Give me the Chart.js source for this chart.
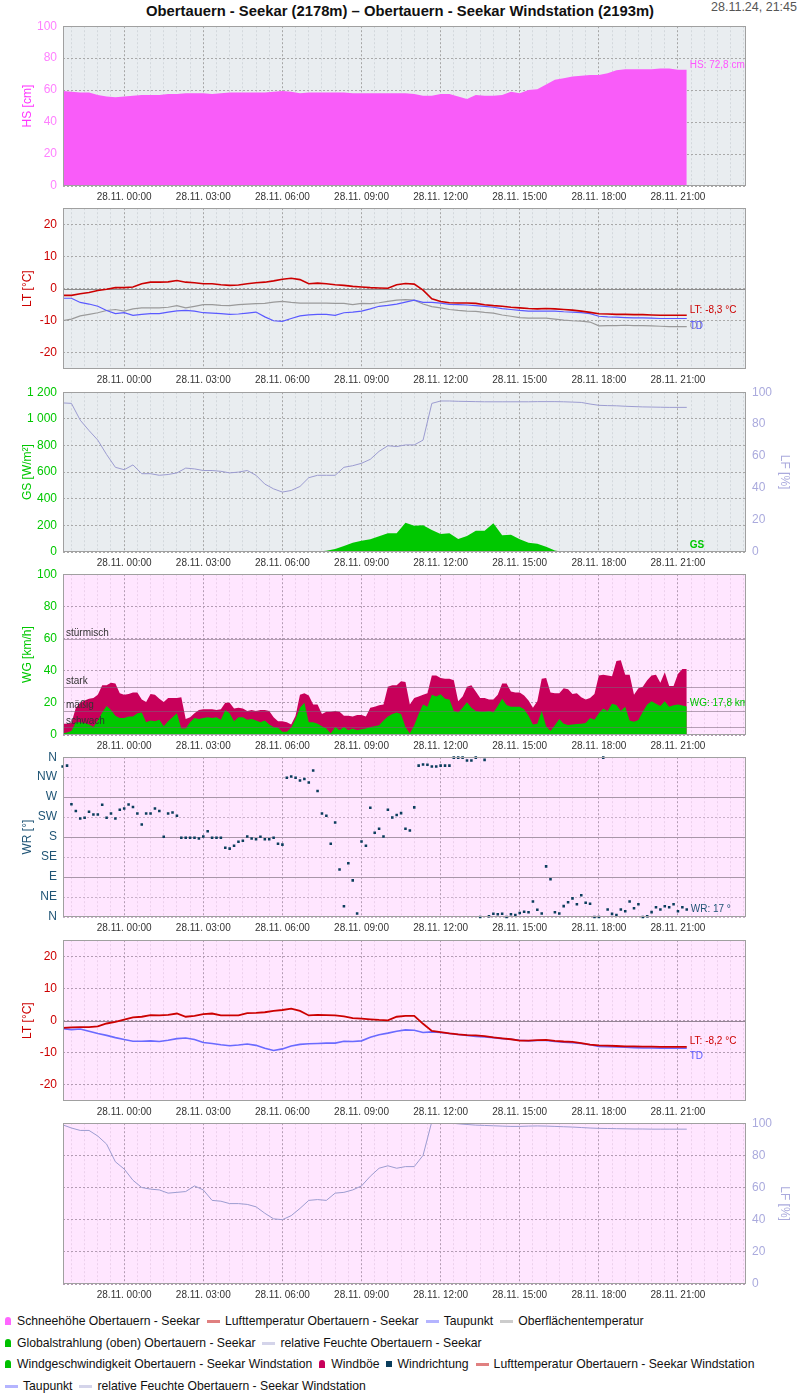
<!DOCTYPE html>
<html lang="de">
<head>
<meta charset="utf-8">
<title>Obertauern - Seekar</title>
<script src="https://cdn.jsdelivr.net/npm/chart.js@4.4.1/dist/chart.umd.min.js"></script>
<style>
  body { margin: 0; width: 800px; height: 1400px; position: relative; background: #fff;
         font-family: "Liberation Sans", Arial, sans-serif; overflow: hidden; }
  canvas { position: absolute; left: 0; }
  #title { position: absolute; top: 2px; left: 0; width: 800px; text-align: center;
           font-weight: bold; font-size: 14.8px; line-height: 18px; color: #111; }
  #stamp { position: absolute; top: 0; right: 3px; font-size: 12.5px; line-height: 15px; color: #555; }
  .lg { position: absolute; left: 5px; display: flex; align-items: center; font-size: 12.2px;
        line-height: 16px; white-space: nowrap; color: #111; }
  .it { display: flex; align-items: center; margin-right: 7px; }
  .bell { width: 6px; height: 8px; border-radius: 3px 3px 0 0; margin-right: 6px; }
  .ln { width: 13px; height: 3px; margin-right: 5px; }
  .sq { width: 6px; height: 6px; margin-right: 5px; }
</style>
</head>
<body>
<div id="title">Obertauern - Seekar (2178m) – Obertauern - Seekar Windstation (2193m)</div>
<div id="stamp">28.11.24, 21:45</div>

<div class="lg" style="top:1313px">
  <span class="it"><i class="bell" style="background:#ff66ff"></i>Schneehöhe Obertauern - Seekar</span>
  <span class="it"><i class="ln" style="background:#e08080"></i>Lufttemperatur Obertauern - Seekar</span>
  <span class="it"><i class="ln" style="background:#b4b4ff"></i>Taupunkt</span>
  <span class="it"><i class="ln" style="background:#cccccc"></i>Oberflächentemperatur</span>
</div>
<div class="lg" style="top:1335px">
  <span class="it"><i class="bell" style="background:#00c000"></i>Globalstrahlung (oben) Obertauern - Seekar</span>
  <span class="it"><i class="ln" style="background:#d4d4ea"></i>relative Feuchte Obertauern - Seekar</span>
</div>
<div class="lg" style="top:1356px">
  <span class="it"><i class="bell" style="background:#00c000"></i>Windgeschwindigkeit Obertauern - Seekar Windstation</span>
  <span class="it"><i class="bell" style="background:#c8005a"></i>Windböe</span>
  <span class="it"><i class="sq" style="background:#0a3d5c"></i>Windrichtung</span>
  <span class="it"><i class="ln" style="background:#e08080"></i>Lufttemperatur Obertauern - Seekar Windstation</span>
</div>
<div class="lg" style="top:1378px">
  <span class="it"><i class="ln" style="background:#b4b4ff"></i>Taupunkt</span>
  <span class="it"><i class="ln" style="background:#d4d4ea"></i>relative Feuchte Obertauern - Seekar Windstation</span>
</div>

<script>
// time axis in hours relative to 28.11. 00:00, first sample 27.11. 21:40
const T0 = -2 - 20 / 60;
const STEP_20 = 20 / 60;   // Seekar station values, every 20 min
const STEP_10 = 10 / 60;   // Windstation wind values, every 10 min
const X_MIN = -2.32, X_MAX = 23.58;
const hourTicks = [0, 3, 6, 9, 12, 15, 18, 21];
const dirLabels = ['N', 'NE', 'E', 'SE', 'S', 'SW', 'W', 'NW', 'N'];
const windLevels = [60, 30, 15, 5];
const windLevelNames = ['stürmisch', 'stark', 'mäßig', 'schwach'];

// Obertauern - Seekar (20 min)
const snowHeight = [59.5, 59, 58.5, 58.5, 57, 56, 55.5, 56, 56.5, 57,
  57, 57, 57.5, 57.5, 58, 58, 58, 57.5, 58, 58.5,
  58.5, 58.5, 58.5, 58.5, 59, 59.5, 59, 58, 58.5, 58.5,
  58.5, 58.5, 58.5, 58, 58, 58, 58, 58, 58, 58,
  57.5, 56.5, 56.5, 57.5, 57.5, 56, 54.5, 57, 56.5, 56.5,
  57, 59, 58, 60, 60.5, 63.5, 66.5, 67.5, 68.5, 69,
  69.5, 69.5, 70.5, 72.5, 73, 73, 73, 73, 73.5, 73.5,
  72.8, 72.8];
const airTemp = [-2.1, -2.1, -1.6, -1.2, -0.6, -0.2, 0.3, 0.3, 0.5, 1.5,
  2.0, 2.0, 2.1, 2.5, 2.0, 1.8, 1.5, 1.5, 1.2, 1.0,
  1.1, 1.5, 1.8, 2.0, 2.4, 2.9, 3.2, 2.8, 1.5, 1.7,
  1.5, 1.2, 1.0, 0.7, 0.5, 0.3, 0.2, 0.1, 1.2, 1.6,
  1.4, -0.5, -3.2, -4.0, -4.4, -4.5, -4.5, -4.6, -5.0, -5.3,
  -5.5, -5.8, -6.0, -6.2, -6.3, -6.2, -6.3, -6.5, -6.7, -7.0,
  -7.4, -7.8, -7.9, -8.0, -8.0, -8.1, -8.1, -8.2, -8.3, -8.3,
  -8.3, -8.3];
const dewPoint = [-3.0, -3.0, -4.3, -4.8, -5.5, -6.8, -7.8, -7.5, -8.3, -8.0,
  -7.8, -7.8, -7.3, -6.9, -6.8, -7.0, -7.5, -7.6, -7.8, -8.0,
  -7.9, -7.6, -7.3, -8.8, -10.0, -10.2, -9.3, -8.5, -8.2, -8.0,
  -8.0, -8.3, -7.5, -7.3, -7.0, -6.3, -5.5, -5.2, -4.8, -4.2,
  -3.6, -4.3, -4.3, -4.5, -4.9, -5.0, -5.1, -5.3, -5.5, -5.8,
  -6.2, -6.5, -6.8, -7.0, -7.0, -7.0, -7.0, -7.2, -7.3, -7.5,
  -7.8, -8.6, -8.8, -8.9, -9.0, -9.1, -9.1, -9.2, -9.3, -9.3,
  -9.3, -9.3];
const surfaceTemp = [-10.0, -9.5, -8.5, -8.0, -7.5, -6.8, -6.5, -7.0, -6.3, -6.0,
  -6.0, -6.0, -5.8, -5.3, -6.0, -5.5, -5.0, -5.0, -5.2, -5.3,
  -5.0, -4.8, -4.7, -4.6, -4.2, -4.0, -4.3, -4.5, -4.5, -4.5,
  -4.5, -4.6, -4.6, -5.0, -4.6, -4.7, -4.4, -4.0, -3.6, -3.4,
  -3.6, -4.8, -5.6, -6.0, -6.5, -6.8, -7.0, -7.1, -7.4, -7.6,
  -8.2, -8.6, -9.0, -9.2, -9.2, -9.2, -9.5, -9.8, -10.0, -10.1,
  -10.4, -11.6, -11.5, -11.5, -11.4, -11.5, -11.5, -11.6, -11.7, -11.8,
  -11.8, -11.8];
const globalRad = [0, 0, 0, 0, 0, 0, 0, 0, 0, 0,
  0, 0, 0, 0, 0, 0, 0, 0, 0, 0,
  0, 0, 0, 0, 0, 0, 0, 0, 0, 3,
  10, 22, 45, 70, 85, 95, 118, 140, 140, 220,
  198, 200, 165, 135, 140, 98, 120, 160, 160, 215,
  125, 130, 95, 70, 62, 40, 12, 0, 0, 0,
  0, 0, 0, 0, 0, 0, 0, 0, 0, 0,
  0, 0];
const humidity = [93.3, 93, 82.5, 76, 70, 61, 53, 51.5, 54.5, 49,
  49, 48, 48.5, 49.5, 52.5, 52, 51, 51, 50.5, 49.5,
  50, 51, 48, 42.5, 39.5, 37.5, 38.5, 41, 46.5, 48,
  48, 48, 53, 54, 55.5, 58, 63, 66.5, 66, 67,
  67, 70, 93, 94.5, 94.5, 94.3, 94.2, 94.1, 94, 94,
  94, 94, 94, 94, 94.1, 94.1, 94.1, 94.0, 93.8, 93.6,
  92.6, 91.8, 91.6, 91.5, 91.2, 91.0, 90.8, 90.7, 90.6, 90.5,
  90.5, 90.5];

// Obertauern - Seekar Windstation
const windSpeed = [1, 1.5, 2.5, 8, 8, 7.5, 6.5, 5, 9, 14,
  18, 15.5, 12, 10.5, 10.5, 11.5, 11.5, 13.5, 14, 8,
  9, 8.5, 9.5, 5.5, 8.5, 11, 13.5, 4, 4, 8,
  10.5, 10, 10.5, 11, 10.5, 11, 9.5, 15.5, 13.5, 8.5,
  11, 11, 9.5, 10, 9, 8, 9, 6.5, 5, 4.5,
  2, 2, 4.5, 10, 17, 20, 8, 8, 7, 5.5,
  4, 1, 5, 3, 5, 3, 4, 3, 3.5, 4,
  5, 5.5, 6, 9, 11.5, 13, 14, 13, 5, 1,
  6, 13, 19, 17.5, 25, 24, 25.3, 22.5, 22, 15,
  14, 17, 20.3, 17, 15, 14.5, 14.5, 15, 14, 18,
  22.5, 18.7, 17.6, 17.6, 17.5, 16, 12, 6.5, 7, 15,
  5.5, 2.5, 6, 10, 7, 6.2, 6.5, 6.8, 7, 7.5,
  10.5, 9.5, 13.5, 16.5, 15, 19.5, 18.7, 15, 17.5, 9,
  8.3, 9.3, 14.5, 19, 21, 19.5, 18, 21, 17.5, 18.5,
  19, 18.3, 17.8];
const windGust = [7, 7, 7.5, 17, 20, 21.5, 22.5, 23, 25, 31,
  31, 32.5, 32, 26, 25, 25.5, 26.5, 26.5, 22, 20.5,
  25.5, 25, 22.5, 20.5, 23, 23, 23, 23.5, 10, 11,
  13.5, 15.5, 16, 16, 16, 15.5, 16, 20, 20, 16.5,
  17, 16.5, 15, 15.5, 15, 15.5, 15.5, 15, 11, 8.5,
  8.5, 8, 6.5, 12, 25, 26, 24.5, 19, 19, 13,
  14.5, 14.5, 15, 14.5, 12, 12, 11.5, 12.5, 12.5, 11.5,
  17, 17.5, 18.5, 19, 30, 31, 31, 33.5, 33, 19,
  23, 24, 25, 26, 37, 37, 35.5, 35, 35, 34,
  21, 24, 30, 31, 27, 23, 23, 22, 22, 25,
  32, 32, 27, 26.5, 26.5, 24.5, 21.5, 17, 21, 35,
  35.5, 26.5, 26, 26, 29, 28.5, 25.5, 26, 23.5, 22,
  23, 25.5, 37, 37.5, 37, 36.5, 46, 46.5, 37.5, 37.5,
  25, 29, 30, 34, 37, 37.5, 32.5, 39, 30.5, 30.5,
  38, 41, 41];
const windDir = [339, 341, 254, 239, 222, 223.5, 237, 231, 231, 253,
  223.5, 233, 222, 241.5, 244.5, 253.5, 248, 233, 208.5, 233,
  233, 244.5, 239, 181, 233, 235.5, 228, 178.5, 178.5, 178.5,
  178.5, 177, 181.5, 193, 178.5, 178.5, 178.5, 156, 154, 160.5,
  169.5, 172, 181.5, 177, 175, 181, 175, 175, 178.5, 165,
  163, 313.5, 316.5, 313.5, 307.5, 311, 303, 330, 284, 233,
  228, 165, 213, 107, 24, 121, 82.5, 8, 170, 160.5,
  246, 190, 199, 181.5, 241.5, 224, 230, 234, 199, 195,
  247, 341, 343.5, 343, 339, 339, 341, 341, 341, 359,
  359, 359, 352.5, 352.5, 359, 0, 354, 1.5, 7.5, 6,
  7.5, 0, 6, 4.5, 9, 12, 10.5, 35, 16.5, 8,
  114, 85, 10.5, 8, 24.5, 33, 42, 28.5, 49, 32,
  30, 0, 0, 359, 17, 7, 4.5, 17, 13, 35,
  19.5, 28.5, 0, 1.5, 11, 22, 17, 24, 22, 28.5,
  13, 22, 17];
const airTempWs = [-2.3, -2.1, -2.0, -2.0, -1.8, -0.9, -0.4, 0.3, 1.0, 1.2,
  1.7, 1.6, 1.8, 2.2, 1.2, 1.5, 2.0, 2.2, 1.6, 1.6,
  1.6, 2.3, 2.4, 2.6, 3.0, 3.3, 3.7, 3.0, 1.6, 1.8,
  1.7, 1.6, 1.3, 0.8, 0.6, 0.4, 0.2, 0.1, 1.2, 1.5,
  1.5, -1.0, -3.2, -3.6, -4.0, -4.3, -4.5, -4.6, -4.8, -5.2,
  -5.5, -5.8, -6.2, -6.2, -6.1, -6.0, -6.3, -6.5, -6.6, -7.0,
  -7.5, -7.7, -7.8, -7.9, -8.0, -8.0, -8.1, -8.1, -8.2, -8.2,
  -8.2, -8.2];
const dewPointWs = [-2.5, -2.8, -2.6, -3.3, -4.0, -4.6, -5.3, -5.9, -6.4, -6.4,
  -6.3, -6.5, -6.1, -5.6, -5.4, -5.9, -6.8, -7.1, -7.5, -7.8,
  -7.6, -7.3, -7.7, -8.6, -9.3, -8.8, -7.9, -7.4, -7.2, -7.1,
  -7.0, -7.0, -6.4, -6.5, -6.3, -5.2, -4.4, -3.9, -3.3, -2.9,
  -3.0, -3.7, -3.5, -3.7, -4.0, -4.3, -4.6, -4.9, -5.1, -5.3,
  -5.6, -5.8, -6.1, -6.3, -6.2, -6.2, -6.5, -6.7, -6.9, -7.1,
  -7.5, -8.0, -8.1, -8.2, -8.3, -8.4, -8.5, -8.5, -8.6, -8.6,
  -8.6, -8.6];
const humidityWs = [99, 97, 95.5, 95.5, 92, 87, 76, 71.5, 64.5, 60,
  59, 58.5, 56.5, 57, 57.5, 61, 58.5, 52, 51.5, 50,
  50, 49.5, 48, 44, 40.5, 40, 42.5, 47, 52, 52.5,
  52, 56.5, 57, 58.5, 61, 67, 72, 73.5, 72, 73,
  73, 80, 101, 100.5, 100.2, 99.6, 99.2, 98.8, 98.6, 98.4,
  98.2, 98.0, 98.0, 98.2, 98.3, 98.2, 98.0, 97.8, 97.6, 97.3,
  97.0, 96.8, 96.7, 96.6, 96.5, 96.4, 96.4, 96.3, 96.3, 96.3,
  96.3, 96.3];

Chart.defaults.font.family = '"Liberation Sans", Arial, sans-serif';
Chart.defaults.font.size = 12;

const PLOT_L = 63, PLOT_R = 746, PAD_T = 10, X_AXIS_H = 20;
const GREY_BG = '#e9edf0', PINK_BG = '#ffe6ff';
const FONT = '"Liberation Sans", Arial, sans-serif';

const series = (vals, step) => vals.map((v, i) => ({ x: T0 + i * step, y: v }));
const comma = v => v.toFixed(1).replace('.', ',');
const last = a => a[a.length - 1];

function xAxis(majorColor, minorColor) {
  return {
    type: 'linear', min: X_MIN, max: X_MAX,
    afterBuildTicks: s => {
      const t = [];
      for (let v = -2; v <= 23.5; v += 0.5) t.push({ value: v });
      s.ticks = t;
    },
    afterFit: s => { s.height = X_AXIS_H; },
    grid: { drawTicks: false, color: c => hourTicks.includes(c.tick.value) ? majorColor : minorColor },
    border: { display: false, dash: [2, 2] },
    ticks: {
      autoSkip: false, maxRotation: 0, padding: 5, color: '#333', font: { size: 10 },
      callback: v => hourTicks.includes(v) ? '28.11. ' + String(v).padStart(2, '0') + ':00' : ''
    }
  };
}

function yAxis(o) {
  const right = o.pos === 'right';
  return {
    position: right ? 'right' : 'left', min: o.min, max: o.max,
    afterBuildTicks: s => { s.ticks = o.ticks.map(v => ({ value: v })); },
    afterFit: s => { s.width = right ? 800 - PLOT_R : PLOT_L; },
    grid: { display: o.gridColor !== undefined, drawTicks: false, color: o.gridColor },
    border: { display: false, dash: [2, 2] },
    ticks: { color: o.color, padding: 6, font: { size: 12 }, callback: o.fmt || (v => v) },
    title: { display: true, text: o.title, color: o.titleColor || o.color, font: { size: 12 },
             padding: { top: right ? 8 : 20, bottom: 0 } }
  };
}

// background, solid reference lines, end-of-series labels and plot border
function frame(bg, opts) {
  const drawLines = (c, over) => {
    const { ctx, chartArea: a } = c;
    (opts.lines || []).filter(l => !!l.over === over).forEach(l => {
      const y = Math.round(c.scales[l.axis].getPixelForValue(l.v)) + 0.5;
      ctx.strokeStyle = l.color; ctx.lineWidth = 1;
      ctx.beginPath(); ctx.moveTo(a.left, y); ctx.lineTo(a.right, y); ctx.stroke();
      if (l.text) {
        ctx.fillStyle = '#333'; ctx.font = '10px ' + FONT; ctx.textBaseline = 'bottom';
        ctx.fillText(l.text, a.left + 3, y - 1);
      }
    });
  };
  return {
    id: 'frame',
    beforeDraw(c) {
      const { ctx, chartArea: a } = c;
      ctx.save(); ctx.fillStyle = bg; ctx.fillRect(a.left, a.top, a.width, a.height); ctx.restore();
    },
    beforeDatasetsDraw(c) {
      c.ctx.save(); drawLines(c, false); c.ctx.restore();
    },
    afterDatasetsDraw(c) {
      const { ctx, chartArea: a } = c;
      ctx.save();
      ctx.beginPath(); ctx.rect(a.left, a.top, a.width, a.height); ctx.clip();
      drawLines(c, true);
      (opts.labels || []).forEach(l => {
        const pts = c.getDatasetMeta(l.ds).data;
        const p = pts[pts.length - 1];
        ctx.font = (l.bold ? 'bold ' : '') + '10px ' + FONT;
        ctx.fillStyle = l.color; ctx.textBaseline = 'middle';
        ctx.fillText(l.text, p.x + (l.dx || 3), p.y + l.dy);
      });
      ctx.restore();
      ctx.save(); ctx.strokeStyle = '#a0a0a0'; ctx.lineWidth = 1;
      ctx.strokeRect(Math.round(a.left) + 0.5, Math.round(a.top) + 0.5, Math.round(a.width) - 1, Math.round(a.height) - 1);
      ctx.restore();
    }
  };
}

function makeChart(plotTop, plotH, datasets, scales, pad, plugin) {
  const cv = document.createElement('canvas');
  document.body.appendChild(cv);
  const build = h => {
    cv.width = 800; cv.height = h;
    return new Chart(cv, {
      type: 'line',
      data: { datasets },
      options: {
        responsive: false, maintainAspectRatio: false, animation: false, devicePixelRatio: 1, events: [],
        layout: { padding: Object.assign({ top: PAD_T, left: 0, right: 0, bottom: 0 }, pad) },
        plugins: { legend: { display: false }, tooltip: { enabled: false } },
        elements: { point: { radius: 0 }, line: { tension: 0 } },
        scales
      },
      plugins: [plugin]
    });
  };
  let h = plotH + PAD_T + X_AXIS_H;
  let chart = build(h);
  // rebuild once so the plot area is exactly plotH tall
  const dh = Math.round(plotH - (chart.chartArea.bottom - chart.chartArea.top));
  if (dh !== 0) { chart.destroy(); chart = build(h + dh); }
  cv.style.top = Math.round(plotTop - chart.chartArea.top) + 'px';
  return chart;
}

const greyX = () => xAxis('#a6a6a6', '#d3d8dc');
const pinkX = () => xAxis('#b39cb3', '#ecd0ec');
const RED = '#cc0000', BLUE = '#5a5aff', GREEN = '#00c800', LFC = '#9c9cd0', DIR = '#1f5475';
const tempTicks = [-20, -10, 0, 10, 20];
const pctTicks = [0, 20, 40, 60, 80, 100];

// 1: Schneehöhe
makeChart(26, 160,
  [{ data: series(snowHeight, STEP_20), fill: 'origin', backgroundColor: '#f95cf9', borderWidth: 0 }],
  { x: greyX(), y: yAxis({ min: 0, max: 100, ticks: pctTicks, color: '#ff80ff', titleColor: '#ff33ff', title: 'HS [cm]', gridColor: '#a9a9a9' }) },
  { right: 800 - PLOT_R },
  frame(GREY_BG, { labels: [{ ds: 0, text: 'HS: ' + comma(last(snowHeight)) + ' cm', color: '#ff55ff', dy: -4 }] }));

// 2: Lufttemperatur, Taupunkt, Oberflächentemperatur
makeChart(208, 161, [
    { data: series(airTemp, STEP_20), borderColor: RED, borderWidth: 1.6 },
    { data: series(dewPoint, STEP_20), borderColor: BLUE, borderWidth: 1.2 },
    { data: series(surfaceTemp, STEP_20), borderColor: '#9a9a9a', borderWidth: 1.2 }
  ],
  { x: greyX(), y: yAxis({ min: -25, max: 25, ticks: tempTicks, color: RED, title: 'LT [°C]', gridColor: '#a9a9a9' }) },
  { right: 800 - PLOT_R },
  frame(GREY_BG, {
    lines: [{ axis: 'y', v: 0, color: '#8c8c8c' }],
    labels: [
      { ds: 0, text: 'LT: ' + comma(last(airTemp)) + ' °C', color: RED, dy: -5 },
      { ds: 2, text: 'OT', color: '#999', dy: 0 },
      { ds: 1, text: 'TD', color: BLUE, dy: 8 }
    ]
  }));

// 3: Globalstrahlung + relative Feuchte
makeChart(392, 160, [
    { data: series(humidity, STEP_20), yAxisID: 'y2', borderColor: LFC, borderWidth: 1 },
    { data: series(globalRad, STEP_20), yAxisID: 'y', fill: 'origin', backgroundColor: GREEN, borderWidth: 0 }
  ],
  { x: greyX(),
    y: yAxis({ min: 0, max: 1200, ticks: [0, 200, 400, 600, 800, 1000, 1200], color: GREEN, title: 'GS [W/m²]', gridColor: '#a9a9a9',
               fmt: v => v >= 1000 ? Math.floor(v / 1000) + ' ' + String(v % 1000).padStart(3, '0') : v }),
    y2: yAxis({ pos: 'right', min: 0, max: 100, ticks: pctTicks, color: '#aaaadd', title: 'LF [%]' }) },
  {},
  frame(GREY_BG, { labels: [{ ds: 1, text: 'GS', color: GREEN, dy: -7, bold: true }] }));

// 4: Windgeschwindigkeit + Windböe
makeChart(574, 161, [
    { data: series(windSpeed, STEP_10), fill: 'origin', backgroundColor: GREEN, borderWidth: 0 },
    { data: series(windGust, STEP_10), fill: 'origin', backgroundColor: '#c8005a', borderWidth: 0 }
  ],
  { x: pinkX(), y: yAxis({ min: 0, max: 100, ticks: pctTicks, color: GREEN, title: 'WG [km/h]', gridColor: '#b39cb3' }) },
  { right: 800 - PLOT_R },
  frame(PINK_BG, {
    lines: windLevels.map((v, i) => ({ axis: 'y', v, color: 'rgba(120,100,120,0.55)', text: windLevelNames[i], over: true })),
    labels: [{ ds: 0, text: 'WG: ' + comma(last(windSpeed)) + ' km/h', color: GREEN, dy: -3 }]
  }));

// 5: Windrichtung
makeChart(757, 160, [
    { data: series(windDir, STEP_10), showLine: false, pointRadius: 1.8, pointStyle: 'rect',
      pointBackgroundColor: '#0a3d5c', pointBorderWidth: 0, clip: 4 }
  ],
  { x: pinkX(), y: yAxis({ min: 0, max: 360, ticks: [0, 45, 90, 135, 180, 225, 270, 315, 360], color: DIR, title: 'WR [°]',
                           gridColor: '#c8b0c8', fmt: v => dirLabels[v / 45] }) },
  { right: 800 - PLOT_R },
  frame(PINK_BG, {
    lines: [90, 180, 270].map(v => ({ axis: 'y', v, color: '#a896a8' })),
    labels: [{ ds: 0, text: 'WR: ' + Math.round(last(windDir)) + ' °', color: DIR, dy: 0, dx: 4 }]
  }));

// 6: Lufttemperatur + Taupunkt Windstation
makeChart(940, 161, [
    { data: series(airTempWs, STEP_20), borderColor: RED, borderWidth: 1.8 },
    { data: series(dewPointWs, STEP_20), borderColor: '#6a6aff', borderWidth: 1.6 }
  ],
  { x: pinkX(), y: yAxis({ min: -25, max: 25, ticks: tempTicks, color: RED, title: 'LT [°C]', gridColor: '#b39cb3' }) },
  { right: 800 - PLOT_R },
  frame(PINK_BG, {
    lines: [{ axis: 'y', v: 0, color: '#948494' }],
    labels: [
      { ds: 0, text: 'LT: ' + comma(last(airTempWs)) + ' °C', color: RED, dy: -6 },
      { ds: 1, text: 'TD', color: BLUE, dy: 8 }
    ]
  }));

// 7: relative Feuchte Windstation
makeChart(1123, 161, [
    { data: series(humidityWs, STEP_20), borderColor: LFC, borderWidth: 1 }
  ],
  { x: pinkX(), y: yAxis({ pos: 'right', min: 0, max: 100, ticks: pctTicks, color: '#aaaadd', title: 'LF [%]', gridColor: '#b39cb3' }) },
  { left: PLOT_L },
  frame(PINK_BG, {}));
</script>
</body>
</html>
